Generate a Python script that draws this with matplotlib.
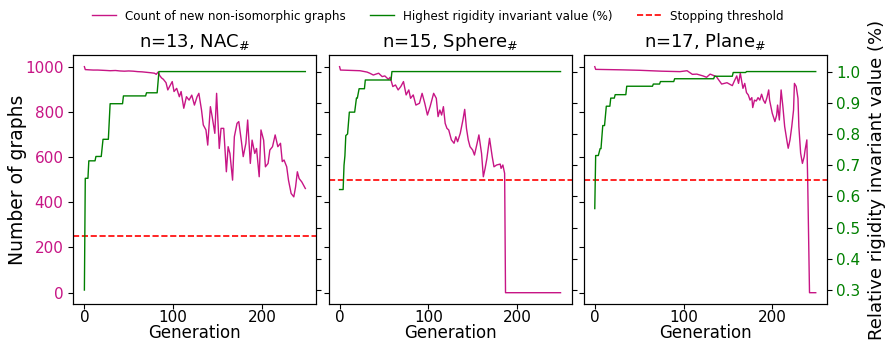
import matplotlib; matplotlib.use("Agg")
import matplotlib.pyplot as plt

MAG, GRN, RED = "mediumvioletred", "green", "red"

titles = [r"n=13, NAC$_{\#}$", r"n=15, Sphere$_{\#}$", r"n=17, Plane$_{\#}$"]
thresholds = [250, 500, 500]

# count of new non-isomorphic graphs per generation
gens1 = [0, 1, 5, 10, 15, 20, 25, 29, 35, 40,
         45, 50, 55, 60, 65, 70, 75, 79, 81, 83,
         85, 87, 89, 92, 94, 96, 99, 101, 104, 107,
         109, 112, 115, 118, 121, 124, 127, 129, 132, 134,
         137, 139, 142, 144, 147, 149, 152, 154, 157, 160,
         162, 164, 167, 169, 172, 174, 177, 179, 182, 184,
         187, 189, 192, 194, 197, 199, 202, 204, 207, 209,
         212, 215, 218, 221, 223, 225, 228, 230, 233, 236,
         238, 240, 242, 245, 249]
cnt1 = [1000, 987, 986, 985, 985, 984, 983, 982, 983, 981,
        980, 981, 980, 978, 977, 975, 973, 971, 966, 976,
        960, 950, 944, 929, 897, 912, 934, 890, 904, 867,
        890, 816, 867, 852, 874, 830, 867, 882, 808, 742,
        720, 653, 823, 779, 705, 882, 638, 727, 727, 535,
        646, 616, 498, 690, 749, 757, 668, 602, 661, 764,
        572, 675, 616, 638, 513, 720, 675, 557, 572, 631,
        646, 698, 646, 661, 580, 587, 557, 498, 439, 424,
        468, 535, 505, 490, 461]

gens2 = [0, 1, 23, 31, 34, 38, 44, 48, 51, 55,
         57, 60, 63, 66, 69, 72, 75, 78, 80, 83,
         86, 90, 93, 96, 99, 102, 106, 109, 111, 113,
         115, 117, 119, 121, 123, 126, 129, 131, 133, 136,
         139, 141, 143, 145, 147, 150, 152, 155, 157, 160,
         162, 164, 166, 169, 172, 174, 177, 181, 182, 184,
         186, 187, 249]
cnt2 = [1000, 985, 982, 976, 971, 963, 971, 956, 959, 944,
        953, 912, 919, 897, 912, 934, 875, 897, 860, 875,
        830, 838, 882, 838, 786, 823, 882, 860, 779, 808,
        786, 823, 749, 727, 720, 676, 661, 690, 668, 705,
        764, 811, 727, 676, 646, 631, 609, 661, 698, 616,
        513, 550, 594, 683, 602, 557, 565, 569, 550, 565,
        528, 0, 0]

gens3 = [0, 1, 29, 50, 75, 96, 104, 110, 115, 122, 126,
         130, 137, 143, 149, 155, 157, 160, 162, 164, 166,
         167, 169, 171, 173, 175, 177, 178, 180, 182, 184,
         186, 188, 190, 192, 194, 196, 197, 200, 203, 205,
         206, 208, 210, 212, 214, 217, 218, 220, 222, 224,
         225, 227, 229, 230, 232, 234, 236, 237, 239, 240,
         242, 249]
cnt3 = [1000, 988, 986, 984, 980, 978, 982, 966, 967, 959, 953,
        967, 956, 923, 929, 916, 934, 959, 926, 971, 926,
        904, 926, 885, 875, 852, 863, 819, 852, 848, 863,
        852, 878, 852, 838, 863, 897, 852, 794, 757, 786,
        830, 764, 897, 823, 735, 661, 639, 676, 735, 808,
        926, 912, 860, 735, 617, 572, 602, 631, 676, 484,
        0, 0]

# highest relative rigidity invariant value (step vertices)
bgens1 = [0, 1, 4, 5, 12, 13, 19, 21, 27, 29, 43, 44, 69, 70, 82, 84, 249]
best1 = [0.30, 0.658, 0.658, 0.714, 0.714, 0.728, 0.728, 0.783, 0.783, 0.897,
         0.897, 0.922, 0.922, 0.932, 0.932, 1.0, 1.0]
bgens2 = [0, 4, 5, 6, 7, 9, 11, 17, 19, 20, 22, 28, 29, 58, 59, 249]
best2 = [0.622, 0.622, 0.70, 0.73, 0.795, 0.80, 0.870, 0.870, 0.915, 0.915,
         0.945, 0.945, 0.973, 0.973, 1.0, 1.0]
bgens3 = [0, 1, 4, 6, 7, 9, 11, 13, 17, 18, 22, 23, 35, 36, 65, 66, 73, 74,
          89, 90, 134, 135, 155, 156, 170, 171, 249]
best3 = [0.561, 0.731, 0.731, 0.753, 0.753, 0.827, 0.827, 0.889, 0.889, 0.915,
         0.915, 0.926, 0.926, 0.953, 0.953, 0.960, 0.960, 0.968, 0.968, 0.977,
         0.977, 0.985, 0.985, 0.997, 0.997, 1.0, 1.0]

counts = [(gens1, cnt1), (gens2, cnt2), (gens3, cnt3)]
bests = [(bgens1, best1), (bgens2, best2), (bgens3, best3)]

fig, axes = plt.subplots(1, 3, figsize=(8.89, 3.41), dpi=100, sharey=True)
fig.subplots_adjust(left=0.0825, right=0.930, top=0.839, bottom=0.1085, wspace=0.05)

twins = []
for i, ax in enumerate(axes):
    g, c = counts[i]
    l1, = ax.plot(g, c, color=MAG, lw=1.0, label="Count of new non-isomorphic graphs")
    l3 = ax.axhline(thresholds[i], color=RED, ls="--", lw=1.2, label="Stopping threshold")
    ax.set_title(titles[i], fontsize=13)
    ax.set_xlabel("Generation", fontsize=12, labelpad=-0.8)
    ax.tick_params(axis="y", labelcolor=MAG, labelsize=11)
    ax.tick_params(axis="x", labelsize=11, pad=1.0)
    tw = ax.twinx()
    if twins:
        tw.sharey(twins[0])
    bg, b = bests[i]
    l2, = tw.plot(bg, b, color=GRN, lw=1.0, label="Highest rigidity invariant value (%)")
    tw.tick_params(axis="y", labelcolor=GRN, labelsize=11, labelright=(i == 2))
    twins.append(tw)
    if i == 0:
        handles = [l1, l2, l3]

axes[0].set_ylim(-50, 1052)
twins[0].set_ylim(0.2553, 1.0534)
twins[0].set_yticks([0.3, 0.4, 0.5, 0.6, 0.7, 0.8, 0.9, 1.0])
axes[0].set_ylabel("Number of graphs", fontsize=13.5, labelpad=-1)
twins[2].set_ylabel("Relative rigidity invariant value (%)", fontsize=13, labelpad=5)

fig.legend(handles=handles, loc="center", bbox_to_anchor=(0.4925, 0.953), ncol=3,
           frameon=False, fontsize=8.6)
fig.savefig("out.png")
